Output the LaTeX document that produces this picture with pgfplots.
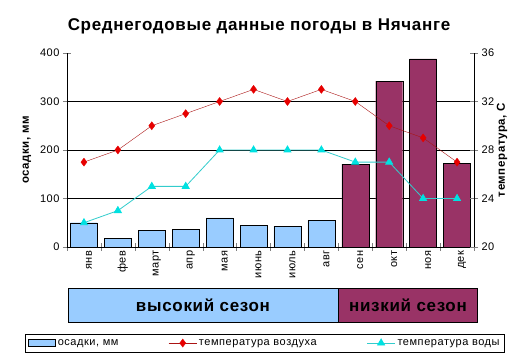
\documentclass[border=0pt]{standalone}
\usepackage{fontspec}
\setmainfont{Liberation Sans}
\newfontfamily\widefont[LetterSpace=5]{Liberation Sans}
\newfontfamily\titlefont[LetterSpace=4]{Liberation Sans}
\usepackage{pgfplots}
\pgfplotsset{compat=1.18}
\definecolor{bluebar}{RGB}{153,204,255}
\definecolor{magbar}{RGB}{153,51,102}
\definecolor{airline}{RGB}{170,20,20}
\definecolor{airmark}{RGB}{230,0,0}
\definecolor{waterline}{RGB}{51,204,204}
\definecolor{watermark}{RGB}{0,225,225}
\pgfplotsset{
  wide line legend/.style={legend image code/.code={\draw[mark repeat=2,mark phase=2,##1] plot coordinates {(0pt,0pt)(14pt,0pt)(28pt,0pt)};}},
  wide bar legend/.style={legend image code/.code={\draw[##1] (0pt,-3.5pt) rectangle (27pt,3.5pt);}},
}
\begin{document}
\begin{tikzpicture}[x=1pt,y=1pt]
\path[use as bounding box] (0,0) rectangle (520,363);
\node[font=\fontsize{17}{19}\titlefont\bfseries] at (259,337) {Среднегодовые данные погоды в Нячанге};
% season band
\draw[fill=bluebar] (68,41) rectangle (338,75);
\draw[fill=magbar] (338,41) rectangle (477,75);
\node[font=\fontsize{17}{19}\titlefont\bfseries] at (203,58) {высокий сезон};
\node[font=\fontsize{17}{19}\titlefont\bfseries] at (408,58) {низкий сезон};
\begin{axis}[
  at={(67pt,116pt)}, anchor=south west,
  scale only axis, width=407pt, height=194pt,
  xmin=-0.5, xmax=11.5, ymin=0, ymax=400,
  axis x line=bottom, axis y line=left,
  axis line style={-, black},
  ytick={0,100,...,400},
  extra y ticks={100,200,300}, extra y tick labels={},
  extra y tick style={grid=major, major tick length=0pt},
  grid style={black, line width=0.6pt},
  xtick={-0.5,0.5,...,11.5}, xticklabels={},
  extra x ticks={0,...,11},
  extra x tick labels={янв,фев,март,апр,мая,июнь,июль,авг,сен,окт,ноя,дек},
  extra x tick style={major tick length=0pt,
    xticklabel style={rotate=90, anchor=east, yshift=-5pt}},
  tick align=center,
  major tick length=8pt,
  tick label style={font=\fontsize{11}{13}\widefont},
  /pgf/number format/assume math mode=true,
  ylabel={\bfseries осадки, мм},
  every axis y label/.style={at={(-40pt,0.5)}, rotate=90, anchor=center,
    font=\fontsize{11.5}{13}\widefont},
]
\addplot[ybar, bar width=27pt, bar shift=0pt, fill=bluebar, draw=black]
  coordinates {(0,50)(1,18)(2,35)(3,37)(4,60)(5,45)(6,43)(7,55)};
\addplot[ybar, bar width=27pt, bar shift=0pt, fill=magbar, draw=black]
  coordinates {(8,171)(9,342)(10,388)(11,172)};
\end{axis}
\begin{axis}[
  at={(67pt,116pt)}, anchor=south west,
  scale only axis, width=407pt, height=194pt,
  xmin=-0.5, xmax=11.5, ymin=20, ymax=36,
  axis x line=none, axis y line*=right,
  axis line style={-, black},
  ytick={20,24,...,36},
  tick align=center, major tick length=8pt,
  tick label style={font=\fontsize{11}{13}\widefont},
  /pgf/number format/assume math mode=true,
  ylabel={\bfseries температура, С},
  every axis y label/.style={at={(435pt,0.5)}, rotate=90, anchor=center,
    font=\fontsize{11.5}{13}\widefont},
  legend columns=3,
  legend style={at={(0.4865,-0.495)}, anchor=center, draw=black,
    font=\fontsize{11}{13}\widefont, inner sep=3pt,
    /tikz/every even column/.append style={column sep=48pt}},
]
\addlegendimage{wide bar legend, fill=bluebar, draw=black}
\addlegendentry{осадки, мм}
\addplot[color=airline, mark=diamond*, mark size=4pt, mark options={fill=airmark, draw=airmark}, wide line legend]
  coordinates {(0,27)(1,28)(2,30)(3,31)(4,32)(5,33)(6,32)(7,33)(8,32)(9,30)(10,29)(11,27)};
\addlegendentry{температура воздуха}
\addplot[color=waterline, line width=0.8pt, mark=triangle*, mark size=4pt, mark options={fill=watermark, draw=watermark}, wide line legend]
  coordinates {(0,22)(1,23)(2,25)(3,25)(4,28)(5,28)(6,28)(7,28)(8,27)(9,27)(10,24)(11,24)};
\addlegendentry{температура воды}
\end{axis}
\end{tikzpicture}
\end{document}
